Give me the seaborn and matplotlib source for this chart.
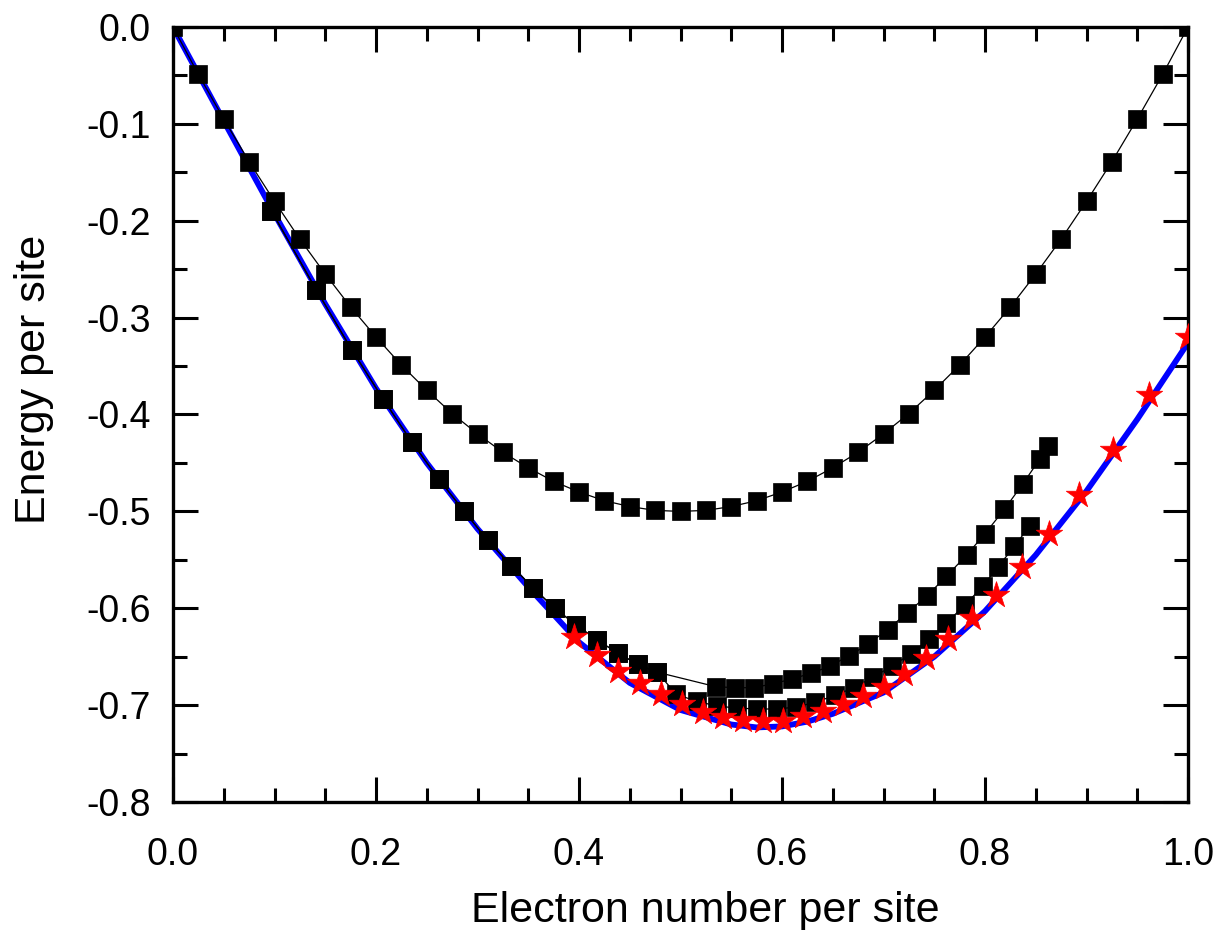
import numpy as np
import pandas as pd
import matplotlib
matplotlib.use("Agg")
import matplotlib.pyplot as plt
from matplotlib.ticker import MultipleLocator, FormatStrFormatter
import seaborn as sns

# -------------------------
# data
# -------------------------
# upper curve (squares, full range)
n_top = [0.000, 0.025, 0.050, 0.075, 0.100, 0.125, 0.150, 0.175, 0.200, 0.225,
         0.250, 0.275, 0.300, 0.325, 0.350, 0.375, 0.400, 0.425, 0.450, 0.475,
         0.500, 0.525, 0.550, 0.575, 0.600, 0.625, 0.650, 0.675, 0.700, 0.725,
         0.750, 0.775, 0.800, 0.825, 0.850, 0.875, 0.900, 0.925, 0.950, 0.975, 1.000]
e_top = [0.000, -0.049, -0.095, -0.139, -0.180, -0.219, -0.255, -0.289, -0.320, -0.349,
         -0.375, -0.399, -0.420, -0.439, -0.455, -0.469, -0.480, -0.489, -0.495, -0.499,
         -0.500, -0.499, -0.495, -0.489, -0.480, -0.469, -0.455, -0.439, -0.420, -0.399,
         -0.375, -0.349, -0.320, -0.289, -0.255, -0.219, -0.180, -0.139, -0.095, -0.049, 0.000]

# lower square curves share the left branch
n_left = [0.097, 0.141, 0.176, 0.207, 0.235, 0.262, 0.287, 0.310, 0.333, 0.355,
          0.376, 0.397, 0.418, 0.438, 0.458, 0.477]
e_left = [-0.190, -0.271, -0.333, -0.384, -0.428, -0.467, -0.500, -0.530, -0.556, -0.579,
          -0.600, -0.617, -0.633, -0.646, -0.658, -0.666]

n_mid = [0.535, 0.554, 0.572, 0.591, 0.610, 0.629, 0.647, 0.666, 0.685, 0.704,
         0.723, 0.743, 0.762, 0.782, 0.800, 0.819, 0.837, 0.854, 0.862]
e_mid = [-0.681, -0.682, -0.682, -0.678, -0.673, -0.667, -0.660, -0.649, -0.637, -0.622,
         -0.605, -0.587, -0.567, -0.545, -0.523, -0.498, -0.472, -0.446, -0.433]

n_low = [0.496, 0.516, 0.536, 0.556, 0.575, 0.595, 0.614, 0.633, 0.652, 0.671,
         0.690, 0.708, 0.727, 0.745, 0.762, 0.780, 0.798, 0.813, 0.829, 0.844]
e_low = [-0.689, -0.696, -0.701, -0.703, -0.704, -0.704, -0.702, -0.697, -0.690, -0.682,
         -0.671, -0.660, -0.647, -0.632, -0.615, -0.597, -0.577, -0.557, -0.536, -0.515]

# red stars
n_star = [0.395, 0.418, 0.438, 0.460, 0.481, 0.501, 0.522, 0.542, 0.562, 0.581,
          0.601, 0.621, 0.640, 0.660, 0.680, 0.700, 0.720, 0.742, 0.764, 0.787,
          0.811, 0.836, 0.863, 0.893, 0.926, 0.962, 1.000]
e_star = [-0.630, -0.648, -0.665, -0.677, -0.689, -0.699, -0.707, -0.712, -0.715, -0.716,
          -0.716, -0.711, -0.706, -0.699, -0.691, -0.681, -0.668, -0.651, -0.632, -0.610,
          -0.586, -0.557, -0.523, -0.483, -0.437, -0.380, -0.320]

# blue curve
n_blue = [0.00, 0.05, 0.10, 0.15, 0.20, 0.25, 0.30, 0.35, 0.40, 0.45, 0.50,
          0.55, 0.575, 0.60, 0.625, 0.65, 0.70, 0.75, 0.80, 0.85, 0.90, 0.95, 1.00]
e_blue = [0.000, -0.097, -0.193, -0.286, -0.373, -0.450, -0.518, -0.578, -0.635, -0.677, -0.705,
          -0.720, -0.723, -0.722, -0.717, -0.709, -0.687, -0.650, -0.603, -0.545, -0.479, -0.405, -0.326]

# -------------------------
# style
# -------------------------
sns.set_theme(style="ticks")
plt.rcParams['font.family'] = ['Liberation Sans', 'DejaVu Sans']
plt.rcParams['axes.unicode_minus'] = False

fig = plt.figure(figsize=(12.19, 9.30), dpi=100)
ax = fig.add_axes([173 / 1219, 1 - 802 / 930, 1015 / 1219, 775 / 930])

sq = dict(color='black', linewidth=0.9, marker='s', markersize=12.5,
          markeredgecolor='black', markeredgewidth=0.5, estimator=None, sort=False,
          zorder=3, ax=ax)

sns.lineplot(x=n_blue, y=e_blue, color='#0000FF', linewidth=4.2, estimator=None,
             sort=False, zorder=2, ax=ax)
sns.lineplot(x=n_top, y=e_top, **sq)
sns.lineplot(x=n_left + n_mid, y=e_left + e_mid, **sq)
sns.lineplot(x=n_left + n_low, y=e_left + e_low, **sq)
sns.scatterplot(x=n_star, y=e_star, marker='*', s=400, color='#FF0000',
                edgecolor='#FF0000', linewidth=0.5, zorder=4, ax=ax)

ax.set_xlim(0, 1)
ax.set_ylim(-0.8, 0)
ax.xaxis.set_major_locator(MultipleLocator(0.2))
ax.xaxis.set_minor_locator(MultipleLocator(0.05))
ax.yaxis.set_major_locator(MultipleLocator(0.1))
ax.yaxis.set_minor_locator(MultipleLocator(0.05))
ax.xaxis.set_major_formatter(FormatStrFormatter('%.1f'))
ax.yaxis.set_major_formatter(FormatStrFormatter('%.1f'))

for s in ax.spines.values():
    s.set_linewidth(2.4)
    s.set_color('black')

ax.tick_params(which='both', direction='in', top=True, right=True, width=2.2,
               color='black', labelsize=27, labelcolor='black')
ax.tick_params(which='major', length=18)
ax.tick_params(which='minor', length=10)
ax.tick_params(axis='x', which='major', pad=25)
ax.tick_params(axis='y', which='major', pad=16)

ax.set_xlabel("Electron number per site", fontsize=31, color='black')
ax.set_ylabel("Energy per site", fontsize=31, color='black')
ax.xaxis.set_label_coords(0.524, -0.115)
ax.yaxis.set_label_coords(-0.117, 0.545)

fig.savefig("out.png", dpi=100)
plt.close(fig)
